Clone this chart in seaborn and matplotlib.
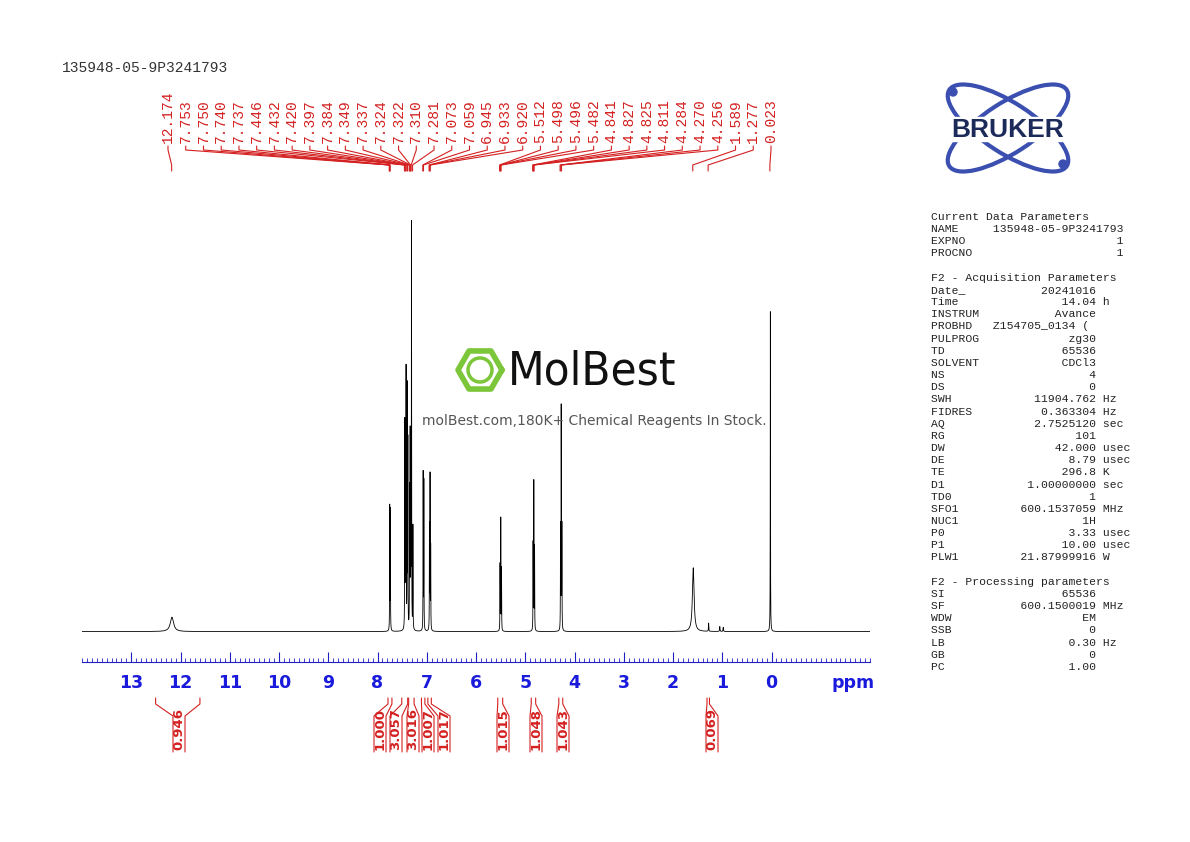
import numpy as np
import pandas as pd
import matplotlib
matplotlib.use("Agg")
import matplotlib.pyplot as plt
import seaborn as sns
from matplotlib.patches import Ellipse, Circle

sns.set_style("white")

# ---- data ----
title = "135948-05-9P3241793"
peak_labels = [12.174, 7.753, 7.750, 7.740, 7.737, 7.446, 7.432, 7.420, 7.397, 7.384, 7.349,
               7.337, 7.324, 7.322, 7.310, 7.281, 7.073, 7.059, 6.945, 6.933, 6.920, 5.512,
               5.498, 5.496, 5.482, 4.841, 4.827, 4.825, 4.811, 4.284, 4.270, 4.256, 1.589,
               1.277, 0.023]
line_ppm = [12.174, 7.752, 7.739, 7.446, 7.432, 7.420, 7.397, 7.384, 7.349, 7.337, 7.324,
            7.310, 7.281, 7.073, 7.059, 6.945, 6.933, 6.920, 5.512, 5.497, 5.482,
            4.841, 4.826, 4.811, 4.284, 4.270, 4.256, 1.589, 1.277, 1.05, 0.98, 0.023]
line_h = [0.035, 0.30, 0.29, 0.50, 0.42, 0.62, 0.58, 0.45, 0.33, 0.46, 0.38,
          1.00, 0.25, 0.38, 0.36, 0.25, 0.37, 0.20, 0.16, 0.27, 0.15,
          0.21, 0.36, 0.20, 0.25, 0.54, 0.25, 0.155, 0.02, 0.012, 0.010, 0.78]
line_w = [0.04, 0.0025, 0.0025, 0.0025, 0.0025, 0.0025, 0.0025, 0.0025, 0.0025, 0.0025, 0.0025,
          0.0025, 0.0025, 0.0025, 0.0025, 0.0025, 0.0025, 0.0025, 0.0025, 0.0025, 0.0025,
          0.0025, 0.0025, 0.0025, 0.0025, 0.0025, 0.0025, 0.02, 0.004, 0.005, 0.005, 0.0025]
int_lo = [11.6, 7.70, 7.38, 7.25, 7.03, 6.90, 5.45, 4.78, 4.23, 1.25]
int_hi = [12.5, 7.78, 7.50, 7.36, 7.10, 6.97, 5.55, 4.87, 4.31, 1.30]
int_vals = ["0.946", "1.000", "3.057", "3.016", "1.007", "1.017", "1.015", "1.048", "1.043", "0.069"]
int_xpix = [179, 380, 396, 413, 428, 444, 503, 536, 563, 712]
params = """Current Data Parameters
NAME     135948-05-9P3241793
EXPNO                      1
PROCNO                     1

F2 - Acquisition Parameters
Date_           20241016
Time               14.04 h
INSTRUM           Avance
PROBHD   Z154705_0134 (
PULPROG             zg30
TD                 65536
SOLVENT            CDCl3
NS                     4
DS                     0
SWH            11904.762 Hz
FIDRES          0.363304 Hz
AQ             2.7525120 sec
RG                   101
DW                42.000 usec
DE                  8.79 usec
TE                 296.8 K
D1            1.00000000 sec
TD0                    1
SFO1         600.1537059 MHz
NUC1                  1H
P0                  3.33 usec
P1                 10.00 usec
PLW1         21.87999916 W

F2 - Processing parameters
SI                 65536
SF           600.1500019 MHz
WDW                   EM
SSB                    0
LB                  0.30 Hz
GB                     0
PC                  1.00"""

W, H = 1190, 842
fig = plt.figure(figsize=(11.9, 8.42), dpi=100)

def fx(px): return px / W
def fy(py): return 1 - py / H

ax = fig.add_axes([fx(82), fy(662), fx(870) - fx(82), fy(220) - fy(662)])
x = np.linspace(14.0, -2.0, 40000)
y = np.zeros_like(x)
for p, h, w in zip(line_ppm, line_h, line_w):
    y += h * w**2 / ((x - p)**2 + w**2)
df = pd.DataFrame({"ppm": x, "I": y})
sns.lineplot(data=df, x="ppm", y="I", ax=ax, color="black", lw=0.6, estimator=None, sort=False)
ax.set_xlim(14.0, -2.0)
ax.set_ylim(-0.074, 1.0)
for s in ["top", "left", "right"]:
    ax.spines[s].set_visible(False)
ax.spines["bottom"].set_color("#2020c0")
ax.set_yticks([])
ax.set_xticks(np.arange(13, -1, -1))
ax.set_xticks(np.arange(14, -2.01, -0.1), minor=True)
ax.tick_params(axis="x", which="major", direction="in", length=7, color="#2020c0",
               labelcolor="#1a1adc", labelsize=12.5, pad=9, bottom=True)
ax.tick_params(axis="x", which="minor", direction="in", length=3, color="#2020c0", bottom=True)
for t in ax.get_xticklabels():
    t.set_fontweight("bold")
ax.set_xlabel("")
ax.set_ylabel("")
fig.text(fx(853), fy(692), "ppm", color="#1a1adc", fontsize=12.5, fontweight="bold", ha="center", va="bottom")

ov = fig.add_axes([0, 0, 1, 1], facecolor="none")
ov.set_xlim(0, W); ov.set_ylim(H, 0); ov.axis("off")

def ppm2px(p):
    return 131 + (13 - p) * (771 - 131) / 13.0

red = "#d42020"
n = len(peak_labels)
lab_x = np.linspace(168, 771, n)
for lx, p in zip(lab_x, peak_labels):
    ov.text(lx, 143, f"{p:.3f}", rotation=90, ha="center", va="bottom", color=red,
            fontsize=10.5, family="Liberation Mono")
    px = ppm2px(p)
    ov.plot([lx, lx, px, px], [146, 150, 165, 171], color=red, lw=0.8)

for lo, hi, v, xp in zip(int_lo, int_hi, int_vals, int_xpix):
    a, b = ppm2px(hi), ppm2px(lo)
    hw = 6
    ov.plot([a, a, xp - hw, xp - hw], [698, 704, 716, 752], color=red, lw=0.8)
    ov.plot([b, b, xp + hw, xp + hw], [698, 704, 716, 752], color=red, lw=0.8)
    ov.text(xp, 750, v, rotation=90, ha="center", va="bottom", color=red,
            fontsize=9.5, fontweight="bold")

ov.text(62, 68, title, fontsize=10.5, family="Liberation Mono", color="#333333", va="center")
ov.text(931, 212, params, fontsize=8.2, family="Liberation Mono", color="#222222",
        va="top", linespacing=1.27)

# Bruker logo
ov.add_patch(Ellipse((1008, 128), 140, 50, angle=-33, fill=False, ec="#3a4fb0", lw=3))
ov.add_patch(Ellipse((1008, 128), 140, 50, angle=33, fill=False, ec="#3a4fb0", lw=3))
for cx, cy in [(953, 92), (1063, 164)]:
    ov.add_patch(Circle((cx, cy), 4, color="#3a4fb0"))
ov.add_patch(plt.Rectangle((925, 117), 166, 24, color="white", zorder=2))
ov.text(1008, 130, "BRUKER", fontsize=19, fontweight="bold", color="#1c2a5a",
        ha="center", va="center", family="Liberation Sans", zorder=3)

# watermark
hexx = 480 + 22 * np.cos(np.linspace(0, 2 * np.pi, 7))
hexy = 370 + 22 * np.sin(np.linspace(0, 2 * np.pi, 7))
ov.plot(hexx, hexy, color="#7cc63a", lw=4)
ov.add_patch(Circle((480, 370), 12, fill=False, ec="#7cc63a", lw=2.5))
ov.text(508, 372, "MolBest", fontsize=34, color="#111111", va="center", fontstretch="condensed")
ov.text(594, 421, "molBest.com,180K+ Chemical Reagents In Stock.", fontsize=10,
        color="#555555", ha="center", va="center")

fig.savefig("out.png", dpi=100)
